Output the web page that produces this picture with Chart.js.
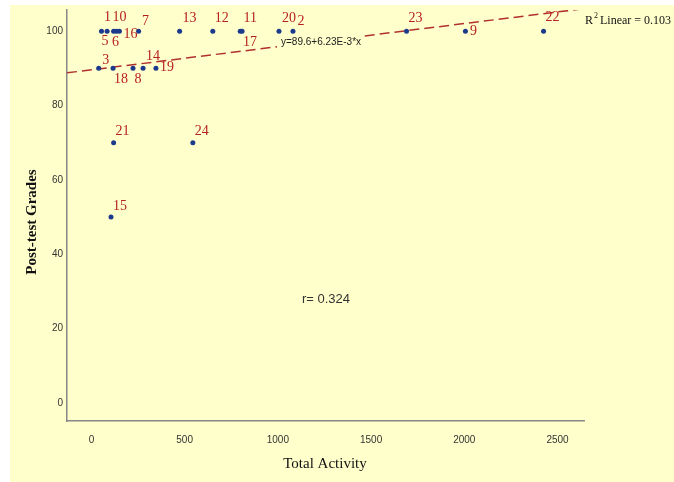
<!DOCTYPE html>
<html>
<head>
<meta charset="utf-8">
<script src="https://cdn.jsdelivr.net/npm/chart.js@4"></script>
<style>
  html, body { margin: 0; padding: 0; background: #fff; }
  #wrap { position: absolute; left: 10px; top: 5px; width: 664px; height: 477px; background: #ffffcc; }
  #c { position: absolute; left: 0; top: 0; }
</style>
</head>
<body>
<div id="wrap"></div>
<canvas id="c" width="674" height="482"></canvas>
<script>
// student ids, total activity, post-test grade
const ids      = ['1','5','6','10','16','7','13','12','11','17','20','2','23','9','22','3','18','8','14','19','21','24','15'];
const activity = [54, 84, 119, 134, 150, 253, 473, 651, 798, 808, 1006, 1081, 1690, 2006, 2425, 39, 116, 223, 277, 346, 119, 544, 105];
const grades   = [100, 100, 100, 100, 100, 100, 100, 100, 100, 100, 100, 100, 100, 100, 100, 90, 90, 90, 90, 90, 70, 70, 50];

const xTicks = [0, 500, 1000, 1500, 2000, 2500];
const yTicks = [0, 20, 40, 60, 80, 100];

// label placement (pixel offsets from the dot)
const labelDx = [6, -2, 2, 3, 11, 7, 10, 9, 10, 8, 10, 8, 9, 8, 9, 7, 8, 5, 10, 11, 9, 9, 9];
const labelDy = [-14, 10, 11, -14, 3, -10, -13, -13, -13, 11, -13, -10, -13, 0, -14, -8, 11, 11, -12, -1, -11, -11, -11];

const intercept = 89.6;
const slope = 0.00623;
const xMin = -131, xMax = 2642;
const yMin = -4.9, yMax = 105.7;

const points = activity.map((x, i) => ({ x: x, y: grades[i] }));
const fitLine = [xMin, xMax].map(x => ({ x: x, y: intercept + slope * x }));

const tickFont = { family: "'Liberation Sans Narrow', 'Liberation Sans'", size: 10 };

const extras = {
    id: 'extras',
    afterDatasetsDraw(chart) {
        const c = chart.ctx;
        const xs = chart.scales.x, ys = chart.scales.y;
        c.save();
        c.textBaseline = 'middle';

        // equation box sits over the fit line
        c.font = '10px "Liberation Sans"';
        c.textAlign = 'left';
        const eq = 'y=89.6+6.23E-3*x';
        const w = c.measureText(eq).width;
        c.fillStyle = '#ffffcc';
        c.fillRect(277, 35, w + 7, 13);
        c.fillStyle = '#222';
        c.fillText(eq, 281, 42);

        c.fillStyle = '#b52020';
        c.font = '14px "Liberation Serif"';
        c.textAlign = 'center';
        ids.forEach((id, i) => {
            const px = xs.getPixelForValue(activity[i]);
            const py = ys.getPixelForValue(grades[i]);
            c.fillText(id, px + labelDx[i], py + labelDy[i]);
        });

        c.textAlign = 'left';
        c.font = '13px "Liberation Sans"';
        c.fillStyle = '#333';
        c.fillText('r= 0.324', 302, 299);

        c.fillStyle = '#111';
        c.font = '12px "Liberation Serif"';
        c.fillText('R', 585, 21);
        c.font = '8px "Liberation Serif"';
        c.fillText('2', 594, 16);
        c.font = '12px "Liberation Serif"';
        c.fillText(' Linear = 0.103', 597, 21);

        c.font = 'bold 15px "Liberation Serif"';
        c.textAlign = 'center';
        c.translate(32, 222);
        c.rotate(-Math.PI / 2);
        c.fillText('Post-test Grades', 0, 0);
        c.restore();

        c.save();
        c.fillStyle = '#111';
        c.font = '15px "Liberation Serif"';
        c.textAlign = 'center';
        c.textBaseline = 'middle';
        c.fillText('Total Activity', 325, 464);
        c.restore();
    }
};

new Chart(document.getElementById('c'), {
    type: 'scatter',
    data: {
        datasets: [{
            data: points,
            backgroundColor: '#1c3a8c',
            borderColor: '#1c3a8c',
            pointRadius: 2.5,
            borderWidth: 0
        }, {
            type: 'line',
            data: fitLine,
            borderColor: '#b03030',
            borderWidth: 1.5,
            borderDash: [10, 5],
            pointRadius: 0,
            fill: false
        }]
    },
    options: {
        responsive: false,
        animation: false,
        layout: { padding: { top: 10, right: 90, left: 0, bottom: 0 } },
        plugins: { legend: { display: false }, tooltip: { enabled: false } },
        scales: {
            x: {
                type: 'linear',
                min: xMin, max: xMax,
                grid: { display: false, drawTicks: false },
                border: { color: '#888', width: 1.5 },
                ticks: { color: '#333', font: tickFont, padding: 13, callback: v => String(v) },
                afterBuildTicks: s => { s.ticks = xTicks.map(v => ({ value: v })); },
                afterFit: s => { s.height = 61; }
            },
            y: {
                min: yMin, max: yMax,
                grid: { display: false, drawTicks: false },
                border: { color: '#888', width: 1.5 },
                ticks: { color: '#333', font: tickFont, padding: 4, callback: v => String(v) },
                afterBuildTicks: s => { s.ticks = yTicks.map(v => ({ value: v })); },
                afterFit: s => { s.width = 67; }
            }
        }
    },
    plugins: [extras]
});
</script>
</body>
</html>
